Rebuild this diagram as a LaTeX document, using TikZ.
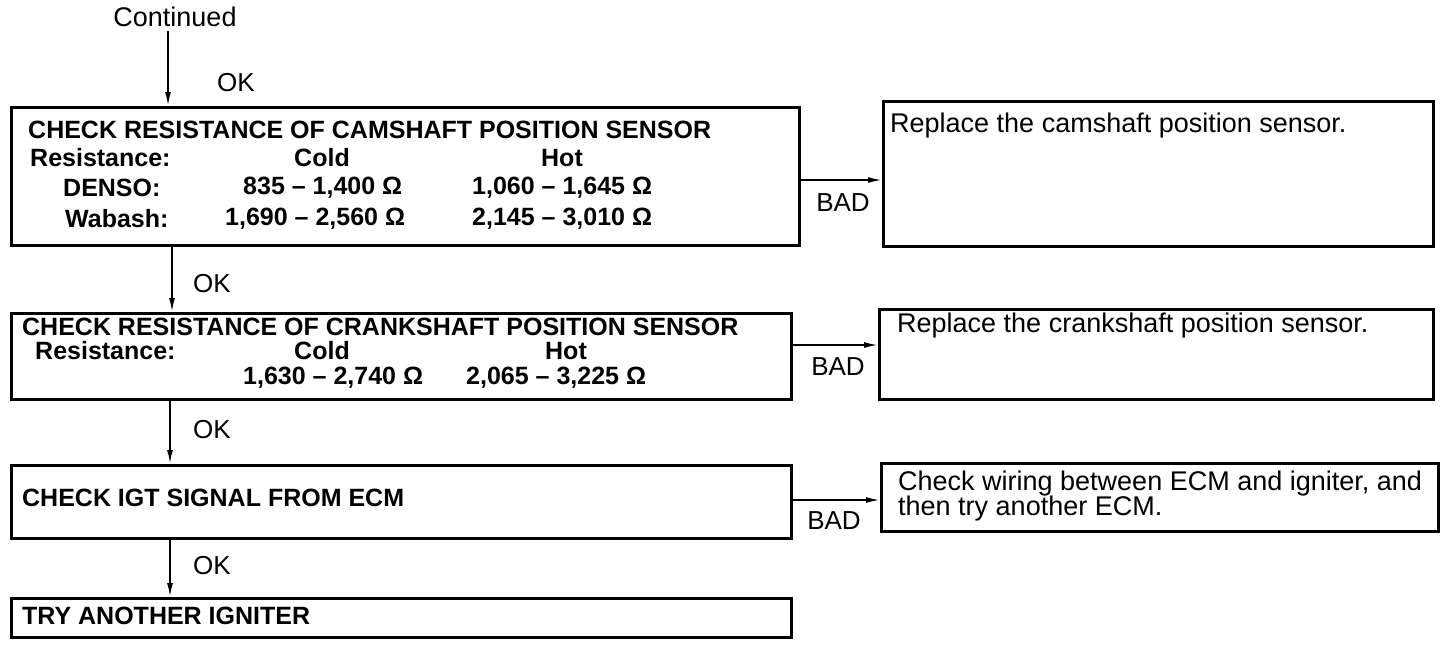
\documentclass[tikz,border=0pt]{standalone}
\usepackage{fontspec}
\setmainfont{Liberation Sans}
\usetikzlibrary{arrows.meta}
\begin{document}
\begin{tikzpicture}[x=1pt,y=-1pt,
  box/.style={draw,line width=2.6pt,anchor=north west,inner sep=0pt},
  arr/.style={line width=1.8pt,-{Latex[length=14pt,width=6pt]}},
  bt/.style={font=\fontsize{25}{27}\selectfont\bfseries,inner sep=0pt},
  rt/.style={font=\fontsize{27}{29}\selectfont,inner sep=0pt},
  lab/.style={font=\fontsize{26}{28}\selectfont,inner sep=0pt}]
\useasboundingbox (0,0) rectangle (1440,646);
% top
\node[lab,font=\fontsize{27}{29}\selectfont] (cont) at (175,17) {Continued};
\coordinate (c0) at (168,31);
% boxes
\node[box,minimum width=788pt,minimum height=138pt] (b1) at (10,106) {};
\node[box,minimum width=550pt,minimum height=145pt] (r1) at (882,100) {};
\node[box,minimum width=780pt,minimum height=86pt] (b2) at (10,312) {};
\node[box,minimum width=554pt,minimum height=90pt] (r2) at (878,308) {};
\node[box,minimum width=780pt,minimum height=73pt] (b3) at (10,464) {};
\node[box,minimum width=557pt,minimum height=68pt] (r3) at (880,462) {};
\node[box,minimum width=780pt,minimum height=39pt] (b4) at (10,597) {};
% box1 text
\node[bt,anchor=west] (t1) at (28,130) {CHECK RESISTANCE OF CAMSHAFT POSITION SENSOR};
\node[bt,anchor=west] (t1r) at (30,158) {Resistance:};
\node[bt] (t1c) at (322,158) {Cold};
\node[bt] (t1h) at (562,158) {Hot};
\node[bt,anchor=west] (t1d) at (63,188) {DENSO:};
\node[bt,anchor=west] (t1d1) at (243,188) {835 – 1,400 Ω};
\node[bt,anchor=west] (t1d2) at (472,188) {1,060 – 1,645 Ω};
\node[bt,anchor=west] (t1w) at (65,219) {Wabash:};
\node[bt,anchor=west] (t1w1) at (225,219) {1,690 – 2,560 Ω};
\node[bt,anchor=west] (t1w2) at (472,219) {2,145 – 3,010 Ω};
\node[rt,anchor=west] (tr1) at (890,126) {Replace the camshaft position sensor.};
% box2 text
\node[bt,anchor=west] (t2) at (22,327) {CHECK RESISTANCE OF CRANKSHAFT POSITION SENSOR};
\node[bt,anchor=west] (t2r) at (35,351) {Resistance:};
\node[bt] (t2c) at (322,351) {Cold};
\node[bt] (t2h) at (566,351) {Hot};
\node[bt,anchor=west] (t2v1) at (243,378) {1,630 – 2,740 Ω};
\node[bt,anchor=west] (t2v2) at (466,378) {2,065 – 3,225 Ω};
\node[rt,anchor=west] (tr2) at (897,326) {Replace the crankshaft position sensor.};
% box3 text
\node[bt,anchor=west] (t3) at (22,498) {CHECK IGT SIGNAL FROM ECM};
\node[rt,anchor=west] (tr3a) at (898,484) {Check wiring between ECM and igniter, and};
\node[rt,anchor=west] (tr3b) at (898,509) {then try another ECM.};
% box4 text
\node[bt,anchor=west] (t4) at (22,616) {TRY ANOTHER IGNITER};
% vertical arrows
\draw[arr] (c0) -- (c0 |- b1.north);
\coordinate (c1) at (172,244);
\draw[arr] (c1) -- (c1 |- b2.north);
\coordinate (c2) at (170,398);
\draw[arr] (c2) -- (c2 |- b3.north);
\coordinate (c3) at (170,537);
\draw[arr] (c3) -- (c3 |- b4.north);
\node[lab] (ok1) at (236,83) {OK};
\node[lab] (ok2) at (212,284) {OK};
\node[lab] (ok3) at (212,430) {OK};
\node[lab] (ok4) at (212,566) {OK};
% horizontal arrows
\coordinate (h1) at (798,180);
\draw[arr] (h1) -- (h1 -| r1.west);
\coordinate (h2) at (790,345);
\draw[arr] (h2) -- (h2 -| r2.west);
\coordinate (h3) at (790,500);
\draw[arr] (h3) -- (h3 -| r3.west);
\node[lab] (bad1) at (843,203) {BAD};
\node[lab] (bad2) at (838,367) {BAD};
\node[lab] (bad3) at (834,521) {BAD};
\end{tikzpicture}
\end{document}
